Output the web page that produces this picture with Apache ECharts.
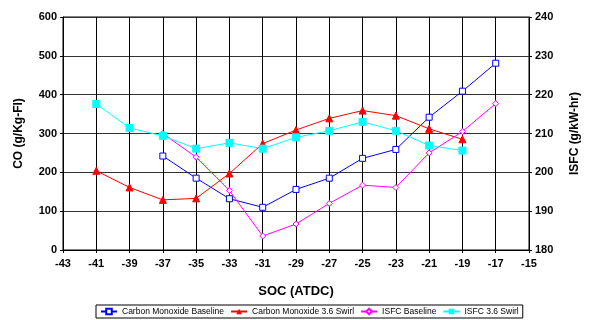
<!DOCTYPE html>
<html>
<head>
<meta charset="utf-8">
<script src="https://cdn.jsdelivr.net/npm/echarts@6/dist/echarts.min.js"></script>
<style>
  html, body { margin: 0; padding: 0; background: #fff; }
  #chart { width: 589px; height: 320px; }
</style>
</head>
<body>
<div id="chart"></div>
<script>
// Start of combustion (crank angle, deg ATDC)
const soc = [-41, -39, -37, -35, -33, -31, -29, -27, -25, -23, -21, -19, -17];

// CO emissions, g/Kg-FI (null where not measured)
const coBaseline = [null, null, 242, 185, 132, 110, 156, 185, 236, 259, 342, 409, 481];
const coSwirl    = [204, 161, 129, 133, 197, 274, 309, 339, 359, 346, 312, 285, null];

// Indicated specific fuel consumption, g/kW-hr
const isfcBaseline = [null, null, 210.0, 203.9, 195.3, 183.6, 186.7, 192.0, 196.7, 196.1, 205.0, 210.5, 217.7];
const isfcSwirl    = [217.6, 211.4, 209.4, 206.1, 207.6, 206.1, 209.0, 210.7, 213.0, 210.7, 206.9, 205.6, null];

const FONT = '"Liberation Sans", Arial, sans-serif';

function pairs(xs, ys) {
  const out = [];
  xs.forEach((x, i) => { if (ys[i] !== null) out.push([x, ys[i]]); });
  return out;
}

const chart = echarts.init(document.getElementById('chart'), null, { renderer: 'canvas' });

chart.setOption({
  animation: false,
  backgroundColor: '#fff',
  grid: { left: 63, right: 50, top: 17, bottom: 70, show: true, borderColor: '#000', borderWidth: 1 },
  legend: {
    bottom: 2,
    left: 96,
    itemGap: 6,
    itemWidth: 16,
    itemHeight: 7,
    padding: [2, 4, 2, 4],
    borderColor: '#000',
    borderWidth: 1,
    textStyle: { fontFamily: FONT, fontSize: 8.5, color: '#000' },
    data: ['Carbon Monoxide Baseline', 'Carbon Monoxide 3.6 Swirl', 'ISFC Baseline', 'ISFC 3.6 Swirl']
  },
  xAxis: {
    type: 'value',
    min: -43, max: -15, interval: 2,
    name: 'SOC (ATDC)',
    nameLocation: 'middle',
    nameGap: 35,
    nameTextStyle: { fontFamily: FONT, fontWeight: 'bold', fontSize: 13, color: '#000' },
    axisLine: { lineStyle: { color: '#000', width: 1 } },
    axisTick: { show: true, length: 3, lineStyle: { color: '#000' } },
    axisLabel: { fontFamily: FONT, fontWeight: 'bold', fontSize: 11, color: '#000', margin: 8 },
    splitLine: { show: true, lineStyle: { color: '#000', width: 1 } }
  },
  yAxis: [
    {
      type: 'value',
      min: 0, max: 600, interval: 100,
      name: 'CO (g/Kg-FI)',
      nameLocation: 'middle',
      nameGap: 38,
      nameRotate: 90,
      nameTextStyle: { fontFamily: FONT, fontWeight: 'bold', fontSize: 12, color: '#000' },
      axisLine: { show: true, lineStyle: { color: '#000' } },
      axisTick: { show: true, length: 3, lineStyle: { color: '#000' } },
      axisLabel: { fontFamily: FONT, fontWeight: 'bold', fontSize: 11, color: '#000', margin: 6 },
      splitLine: { show: true, lineStyle: { color: '#333', width: 1 } }
    },
    {
      type: 'value',
      min: 180, max: 240, interval: 10,
      name: 'ISFC (g/kW-hr)',
      nameLocation: 'middle',
      nameGap: 40,
      nameRotate: 90,
      nameTextStyle: { fontFamily: FONT, fontWeight: 'bold', fontSize: 12, color: '#000' },
      axisLine: { show: true, lineStyle: { color: '#000' } },
      axisTick: { show: true, length: 3, lineStyle: { color: '#000' } },
      axisLabel: { fontFamily: FONT, fontWeight: 'bold', fontSize: 11, color: '#000', margin: 6 },
      splitLine: { show: false }
    }
  ],
  series: [
    {
      name: 'Carbon Monoxide Baseline',
      type: 'line',
      yAxisIndex: 0,
      data: pairs(soc, coBaseline),
      symbol: 'rect', symbolSize: 6,
      itemStyle: { color: '#fff', borderColor: '#0000ff', borderWidth: 1 },
      lineStyle: { color: '#0000ff', width: 1 },
      z: 3
    },
    {
      name: 'Carbon Monoxide 3.6 Swirl',
      type: 'line',
      yAxisIndex: 0,
      data: pairs(soc, coSwirl),
      symbol: 'triangle', symbolSize: 7,
      itemStyle: { color: '#ff0000', borderColor: '#ff0000' },
      lineStyle: { color: '#ff0000', width: 1 },
      z: 3
    },
    {
      name: 'ISFC Baseline',
      type: 'line',
      yAxisIndex: 1,
      data: pairs(soc, isfcBaseline),
      symbol: 'diamond', symbolSize: 6,
      itemStyle: { color: '#fff', borderColor: '#ff00ff', borderWidth: 1 },
      lineStyle: { color: '#ff00ff', width: 1 },
      z: 3
    },
    {
      name: 'ISFC 3.6 Swirl',
      type: 'line',
      yAxisIndex: 1,
      data: pairs(soc, isfcSwirl),
      symbol: 'rect', symbolSize: 7,
      itemStyle: { color: '#00ffff', borderColor: '#00ffff' },
      lineStyle: { color: '#00ffff', width: 1 },
      z: 3
    }
  ]
});
</script>
</body>
</html>
